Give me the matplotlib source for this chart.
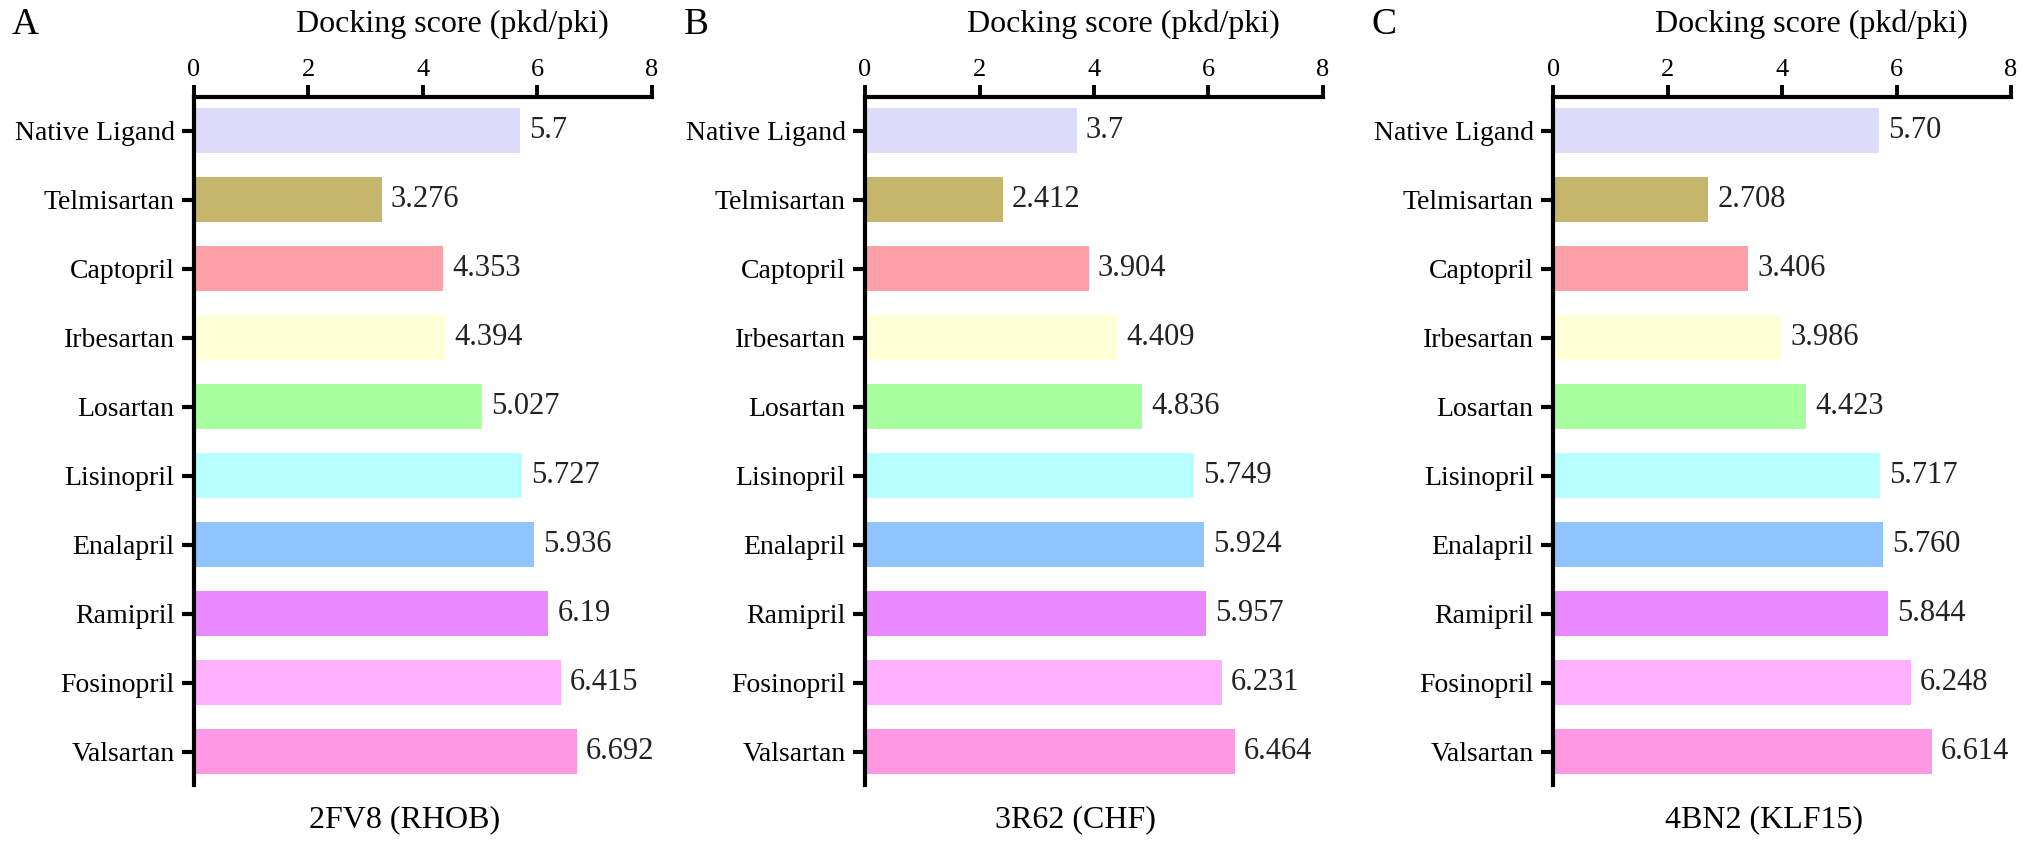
import matplotlib.pyplot as plt

plt.rcParams['font.family'] = ['Liberation Serif', 'DejaVu Serif']

drugs = ['Native Ligand', 'Telmisartan', 'Captopril', 'Irbesartan', 'Losartan',
         'Lisinopril', 'Enalapril', 'Ramipril', 'Fosinopril', 'Valsartan']
colors = ['#DCDCFA', '#C6B66C', '#FFA0A8', '#FFFFD6', '#A8FFA0',
          '#B8FFFF', '#90C4FF', '#EA88FF', '#FFB0FF', '#FF98E2']

scores_a = [5.7, 3.276, 4.353, 4.394, 5.027, 5.727, 5.936, 6.19, 6.415, 6.692]
labels_a = ['5.7', '3.276', '4.353', '4.394', '5.027', '5.727', '5.936', '6.19', '6.415', '6.692']
scores_b = [3.7, 2.412, 3.904, 4.409, 4.836, 5.749, 5.924, 5.957, 6.231, 6.464]
labels_b = ['3.7', '2.412', '3.904', '4.409', '4.836', '5.749', '5.924', '5.957', '6.231', '6.464']
scores_c = [5.70, 2.708, 3.406, 3.986, 4.423, 5.717, 5.760, 5.844, 6.248, 6.614]
labels_c = ['5.70', '2.708', '3.406', '3.986', '4.423', '5.717', '5.760', '5.844', '6.248', '6.614']

panels = ['A', 'B', 'C']
targets = ['2FV8 (RHOB)', '3R62 (CHF)', '4BN2 (KLF15)']
xticks = [0, 2, 4, 6, 8]

fig = plt.figure(figsize=(20.31, 8.47), dpi=100)
lefts = [0.0955, 0.4259, 0.7647]
bottom, height, width = 0.0732, 0.8123, 0.2255

for left, letter, target, scores, labels in zip(lefts, panels, targets,
                                                 [scores_a, scores_b, scores_c],
                                                 [labels_a, labels_b, labels_c]):
    ax = fig.add_axes([left, bottom, width, height])
    y = list(range(len(drugs)))
    ax.barh(y, scores, height=0.65, color=colors)
    for yi, v, lab in zip(y, scores, labels):
        ax.annotate(lab, (v, yi), xytext=(6.5, 0), textcoords='offset points',
                    va='center', ha='left', fontsize=22, color='#222222')

    ax.set_xlim(0, 8)
    ax.set_ylim(9.48, -0.49)
    ax.set_xticks(xticks)
    ax.set_yticks(y)
    ax.set_yticklabels(drugs)
    ax.xaxis.tick_top()
    ax.tick_params(axis='x', direction='out', length=8.5, width=2.8, labelsize=19, pad=3)
    ax.tick_params(axis='y', direction='out', length=9, width=3, labelsize=20, pad=5)

    for s in ['right', 'bottom']:
        ax.spines[s].set_visible(False)
    for s in ['left', 'top']:
        ax.spines[s].set_linewidth(3)

    ax.text(0.565, 1.105, 'Docking score (pkd/pki)', transform=ax.transAxes,
            ha='center', va='center', fontsize=23)
    ax.text(-0.369, 1.105, letter, transform=ax.transAxes,
            ha='center', va='center', fontsize=27)
    ax.text(0.46, -0.051, target, transform=ax.transAxes,
            ha='center', va='center', fontsize=23)

fig.savefig('out.png', dpi=100)
